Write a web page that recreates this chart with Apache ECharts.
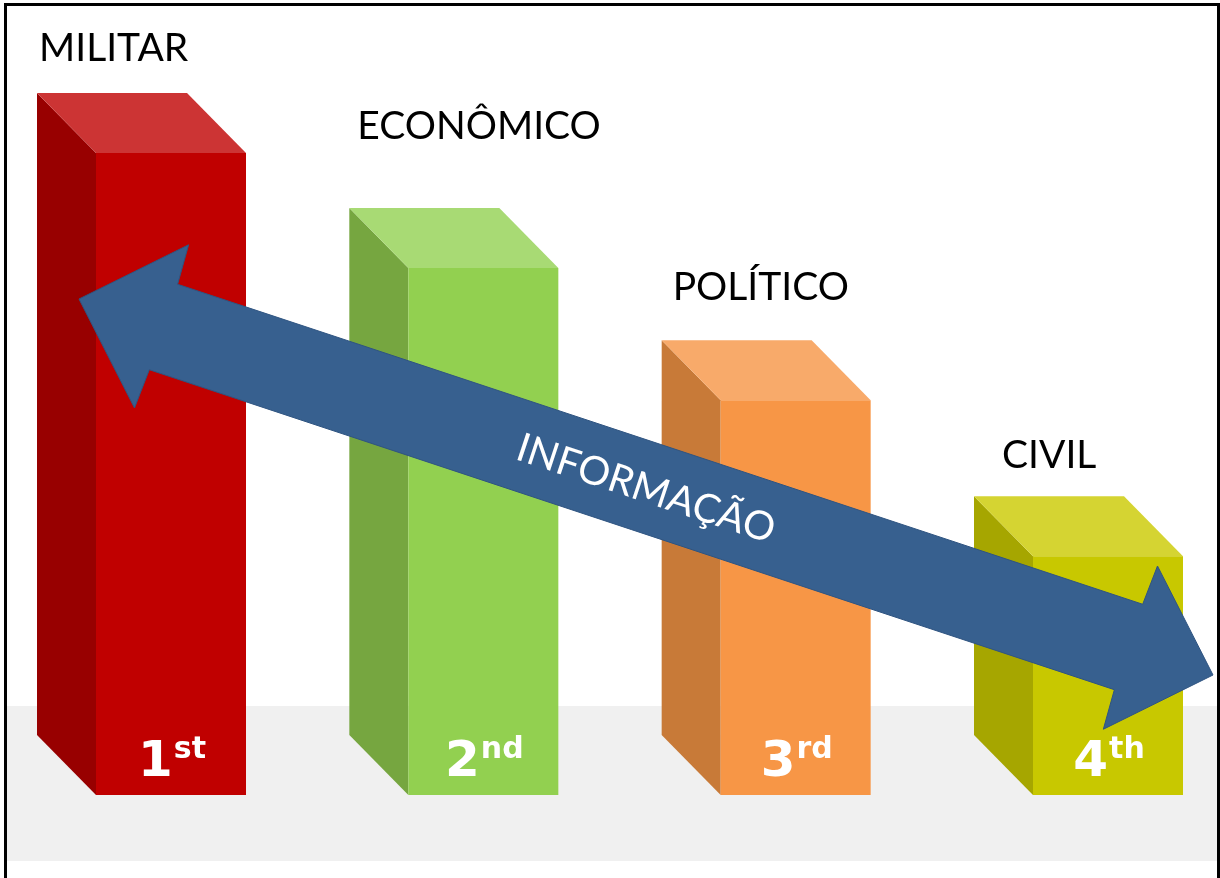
<!DOCTYPE html>
<html>
<head>
<meta charset="utf-8">
<script src="https://cdn.jsdelivr.net/npm/echarts@6/dist/echarts.min.js"></script>
<style>
  html, body { margin: 0; padding: 0; background: #fff; }
  #chart { width: 1220px; height: 878px; }
</style>
</head>
<body>
<div id="chart"></div>
<script>
// dados
const categories = ['MILITAR', 'ECONÔMICO', 'POLÍTICO', 'CIVIL'];
const values = [100, 82.1, 61.5, 37.2];
const ranks = ['1', '2', '3', '4'];
const rankSuffix = ['st', 'nd', 'rd', 'th'];
const arrowText = 'INFORMAÇÃO';

// cores: frente, lateral, topo
const frontColors = ['#c00000', '#92d050', '#f79646', '#c8c800'];
const sideColors = ['#980000', '#76a640', '#c87a38', '#a6a600'];
const topColors = ['#cc3434', '#a8da74', '#f8aa6a', '#d5d432'];

// deslocamento dos rótulos (x a partir da aresta esquerda, y do meio do texto acima do topo)
const labelShift = [[2, -45], [8, -81], [11, -53], [28, -41]];

const HALF = 75, DX = 59, DY = 60;

function renderBar(params, api) {
    const i = params.dataIndex;
    const top = api.coord([api.value(0), api.value(1)]);
    const base = api.coord([api.value(0), 0]);
    const cx = top[0];
    const xl = cx - HALF, xr = cx + HALF;
    const yt = top[1], yb = base[1];
    return {
        type: 'group',
        children: [
            {
                type: 'polygon',
                shape: { points: [[xl, yt], [xl, yb], [xl - DX, yb - DY], [xl - DX, yt - DY]] },
                style: { fill: sideColors[i] }
            },
            {
                type: 'polygon',
                shape: { points: [[xl - DX, yt - DY], [xr - DX, yt - DY], [xr, yt], [xl, yt]] },
                style: { fill: topColors[i] }
            },
            {
                type: 'rect',
                shape: { x: xl, y: yt, width: xr - xl, height: yb - yt },
                style: { fill: frontColors[i] }
            },
            {
                type: 'text',
                x: xl - DX + labelShift[i][0],
                y: yt - DY + labelShift[i][1],
                style: {
                    text: categories[i],
                    fill: '#000',
                    font: '39px Lato',
                    align: 'left',
                    verticalAlign: 'middle'
                }
            },
            {
                type: 'text',
                x: cx + 1,
                y: yb - 4,
                style: {
                    text: '{n|' + ranks[i] + '}{s|' + rankSuffix[i] + '}',
                    align: 'center',
                    verticalAlign: 'bottom',
                    rich: {
                        n: { fontFamily: 'DejaVu Sans', fontWeight: 'bold', fontSize: 50, lineHeight: 56, fill: '#fff', color: '#fff' },
                        s: { fontFamily: 'DejaVu Sans', fontWeight: 'bold', fontSize: 30, lineHeight: 56, verticalAlign: 'top', fill: '#fff', color: '#fff', padding: [0, 0, 12, 1] }
                    }
                }
            }
        ]
    };
}

// seta dupla
function arrowPoints(p0, p1) {
    const ax = p1[0] - p0[0], ay = p1[1] - p0[1];
    const len = Math.sqrt(ax * ax + ay * ay);
    const ux = ax / len, uy = ay / len, nx = -uy, ny = ux;
    const local = [
        [0, 0], [87, -86], [89, -45], [len - 89, -45], [len - 87, -86],
        [len, 0], [len - 87, 86], [len - 89, 45], [89, 45], [87, 86]
    ];
    return local.map(p => [p0[0] + p[0] * ux + p[1] * nx, p0[1] + p[0] * uy + p[1] * ny]);
}

const tipL = [79, 299], tipR = [1213, 675];
const angle = Math.atan2(tipR[1] - tipL[1], tipR[0] - tipL[0]);

const chart = echarts.init(document.getElementById('chart'));
chart.setOption({
    animation: false,
    grid: { left: 171, right: 112, top: 153, bottom: 83 },
    xAxis: { type: 'category', data: categories, boundaryGap: false, show: false },
    yAxis: { type: 'value', min: 0, max: 100, show: false },
    graphic: [
        {
            type: 'rect', z: -10, silent: true,
            shape: { x: 7, y: 706, width: 1210, height: 155 },
            style: { fill: '#f0f0f0' }
        },
        {
            type: 'rect', z: 100, silent: true,
            shape: { x: 5.5, y: 4.5, width: 1213, height: 900 },
            style: { fill: null, stroke: '#000', lineWidth: 3 }
        },
        {
            type: 'polygon', z: 50, silent: true,
            shape: { points: arrowPoints(tipL, tipR) },
            style: { fill: '#37608f', stroke: '#2f5481', lineWidth: 1 }
        },
        {
            type: 'text', z: 51, silent: true,
            x: (tipL[0] + tipR[0]) / 2,
            y: (tipL[1] + tipR[1]) / 2 + 2,
            rotation: -angle,
            style: {
                text: arrowText,
                fill: '#fff',
                font: '40px Lato',
                align: 'center',
                verticalAlign: 'middle'
            }
        }
    ],
    series: [{
        type: 'custom',
        renderItem: renderBar,
        data: values.map((v, i) => [i, v])
    }]
});
</script>
</body>
</html>
